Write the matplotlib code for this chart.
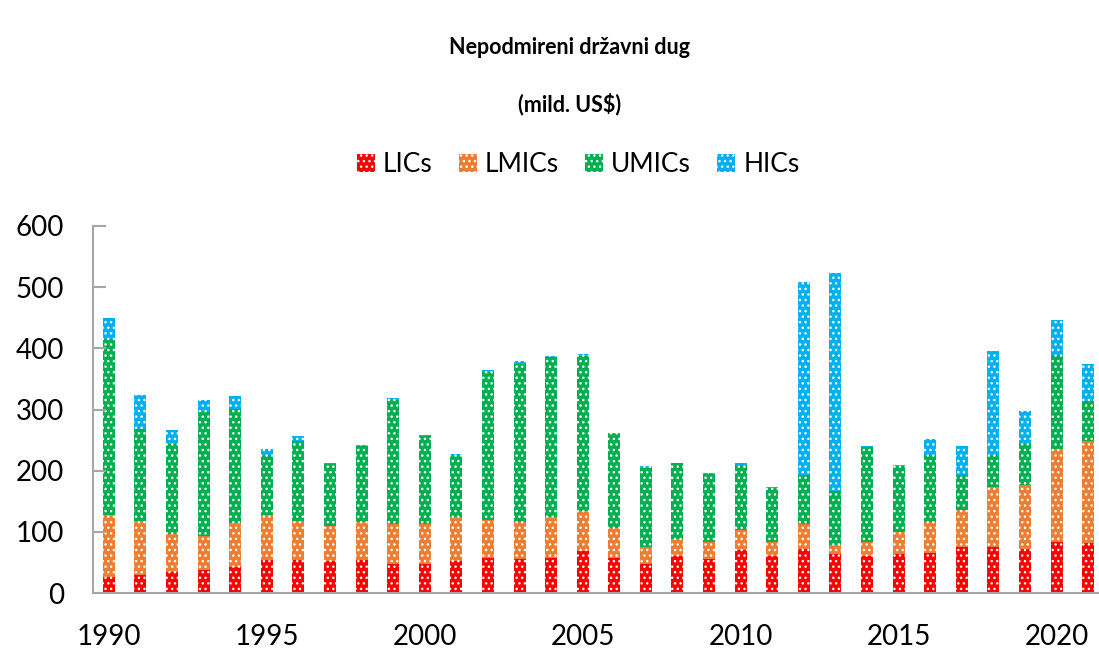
import matplotlib.pyplot as plt
import numpy as np

plt.rcParams['font.family'] = ['Lato', 'DejaVu Sans']
plt.rcParams['hatch.linewidth'] = 1.0

years = np.arange(1990, 2022)

lic_top = [26, 30, 35, 37, 43, 54, 54, 52, 54, 47, 47, 52, 58, 56, 58, 69,
           58, 47, 60, 56, 70, 60, 72, 64, 60, 64, 66, 75, 76, 72, 83, 81]
lmic_top = [127, 118, 97, 94, 114, 127, 118, 110, 116, 112, 112, 125, 120, 116, 125, 134,
            106, 76, 89, 84, 103, 84, 112, 78, 84, 100, 116, 135, 174, 177, 236, 249]
umic_top = [415, 268, 244, 296, 301, 225, 249, 211, 240, 316, 256, 226, 362, 374, 386, 388,
            260, 205, 212, 195, 210, 172, 193, 166, 239, 208, 225, 193, 225, 244, 389, 314]
hic_top = [449, 324, 267, 315, 322, 236, 257, 213, 242, 318, 258, 228, 364, 380, 388, 390,
           262, 207, 213, 197, 212, 174, 508, 523, 241, 210, 252, 240, 395, 298, 447, 374]

lics = np.array(lic_top)
lmics = np.array(lmic_top) - np.array(lic_top)
umics = np.array(umic_top) - np.array(lmic_top)
hics = np.array(hic_top) - np.array(umic_top)

series = [("LICs", lics, "#FF0000"),
          ("LMICs", lmics, "#ED7D31"),
          ("UMICs", umics, "#00B050"),
          ("HICs", hics, "#00B0F0")]

fig = plt.figure(figsize=(10.99, 6.53), dpi=100)
ax = fig.add_axes([93/1099, 60/653, 1011/1099, 367/653])

bottom = np.zeros(len(years))
for name, vals, col in series:
    ax.bar(years, vals, 0.38, bottom=bottom, color=col, edgecolor='white',
           linewidth=0, hatch='...', label=name)
    bottom += vals

ax.set_xlim(1989.5, 2021.5)
ax.set_ylim(0, 600)
ax.set_yticks(np.arange(0, 601, 100))
ax.set_xticks(np.arange(1990, 2021, 5))

for s in ['top', 'right']:
    ax.spines[s].set_visible(False)
for s in ['left', 'bottom']:
    ax.spines[s].set_color('#A6A6A6')
    ax.spines[s].set_linewidth(1.5)

ax.tick_params(axis='y', direction='in', length=9, width=1.5, color='#A6A6A6',
               labelsize=20, pad=21)
ax.tick_params(axis='x', length=0, labelsize=20, pad=22)

fig.text(0.518, 1 - 48/653, "Nepodmireni državni dug", ha='center', va='center',
         fontsize=15.5, fontweight='bold')
fig.text(0.518, 1 - 104/653, "(mild. US$)", ha='center', va='center',
         fontsize=15.5, fontweight='bold')

fig.legend(loc='center', bbox_to_anchor=(0.526, 1 - 165/653), ncol=4, frameon=False,
           fontsize=19, handlelength=0.68, handleheight=0.68, handletextpad=0.3,
           columnspacing=1.0)

plt.savefig("out.png", dpi=100)
